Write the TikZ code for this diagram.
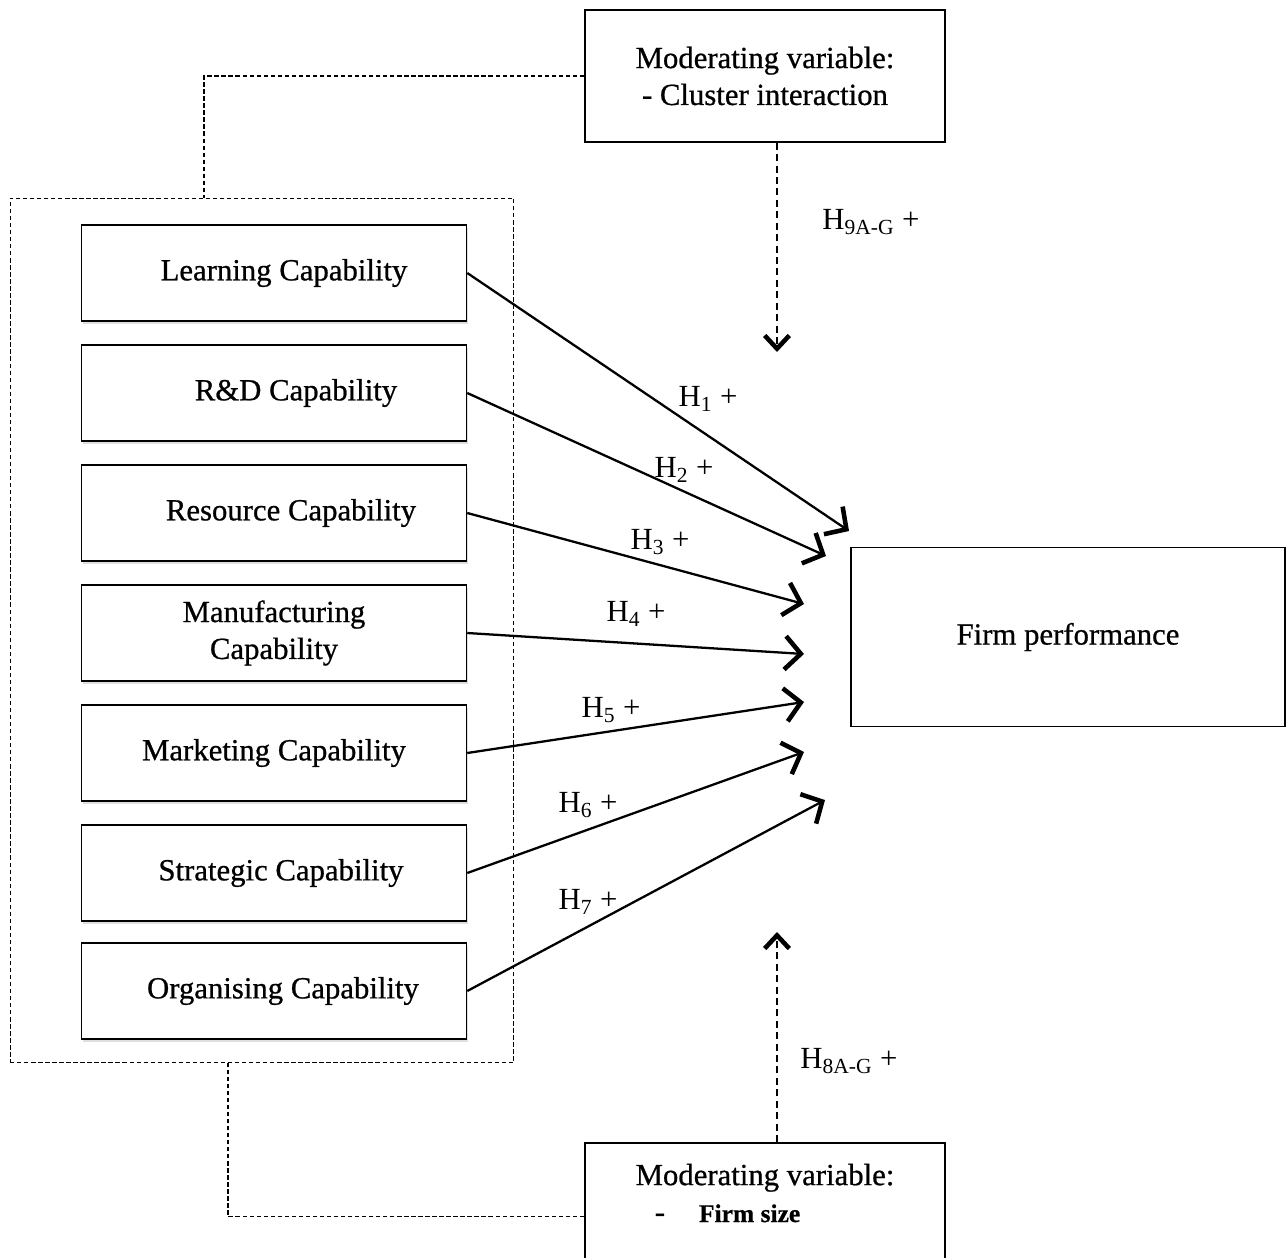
\documentclass[tikz,border=0pt]{standalone}
\usepackage{fontspec}
\setmainfont{Liberation Serif}
\usetikzlibrary{arrows.meta,shadows}

\begin{document}
\begin{tikzpicture}[x=0.02cm, y=-0.02cm, font=\fontsize{17.5}{21}\selectfont]

\def \bw {7.7cm}
\def \bh {1.92cm}

\tikzset{capbox/.style = {draw, line width=0.9pt, fill=white, minimum width=\bw, minimum height=\bh, align=center, font=\fontsize{17.5}{21}\selectfont\addfontfeature{FakeBold=0.7}, drop shadow={shadow xshift=1pt, shadow yshift=-1.5pt, opacity=0.25}}}
\tikzset{modbox/.style = {draw, line width=0.9pt, fill=white, minimum width=7.2cm, align=center, font=\fontsize{17.5}{21}\selectfont\addfontfeature{FakeBold=0.7}}}
\tikzset{link/.style = {line width=0.6pt, dash pattern=on 2.5pt off 1.5pt}}
\tikzset{hyp/.style = {line width=1.3pt, -{Straight Barb[length=9pt, width=19pt, line width=2.6pt]}}}
\tikzset{modarrow/.style = {line width=1.3pt, dash pattern=on 4pt off 2.5pt, -{Straight Barb[length=7.5pt, width=14pt, line width=2.6pt]}}}

\useasboundingbox (0,0) rectangle (1286,1258);

\node[link, draw, minimum width=10.08cm, minimum height=17.3cm, inner sep=0] (G) at (262, 630.5) {};

\foreach \txt/\dx [count=\i] in {Learning Capability/0.4cm, R\&D Capability/0.88cm, Resource Capability/0.68cm, Manufacturing\\Capability/0cm, Marketing Capability/0cm, Strategic Capability/0.28cm, Organising Capability/0.36cm}
{
	\pgfmathtruncatemacro{\cy}{153 + 120 * \i - (\i == 7) * 2}
	\node[capbox] (c\i) at (274, \cy) {\hspace*{\dx}\txt};
}

\node[draw, line width=0.9pt, minimum width=8.68cm, minimum height=3.58cm, font=\fontsize{17.5}{21}\selectfont\addfontfeature{FakeBold=0.7}] (F) at (1068, 637) {Firm performance};

\node[modbox, minimum height=2.64cm] (MT) at (765, 76) {Moderating variable:\\- Cluster interaction};
\node[modbox, anchor=north, inner ysep=0.42cm] (MB) at (765, 1142) {Moderating variable:\\-\hspace{0.68cm}{\bfseries\fontsize{14.5}{17}\selectfont Firm size}\hspace*{1.5cm}\mbox{}\\ \strut};

\coordinate (gt) at (204, 198);
\coordinate (gb) at (228, 1063);
\draw[link] (MT.west) -| (gt);
\draw[link] (MB.west) -| (gb);

\coordinate (a9) at (777, 352);
\coordinate (a8) at (777, 932);
\draw[modarrow] (MT.south -| a9) -- (a9);
\draw[modarrow] (MB.north -| a8) -- (a8);
\node (h9) at (871, 222) {H\textsubscript{9A-G} +};
\node (h8) at (849, 1061) {H\textsubscript{8A-G} +};

\foreach \i/\tx/\ty in {1/849/531, 2/826/556, 3/804/604, 4/804/654, 5/804/702, 6/804/752, 7/825/800}
{
	\coordinate (t\i) at (\tx, \ty);
	\draw[hyp] (c\i.east) -- (t\i);
}

\foreach \i/\lx/\ly in {1/708/399, 2/684/470, 3/660/542, 4/636/614, 5/611/710, 6/588/805, 7/588/902}
{
	\node (h\i) at (\lx, \ly) {H\textsubscript{\i} +};
}

\end{tikzpicture}
\end{document}
